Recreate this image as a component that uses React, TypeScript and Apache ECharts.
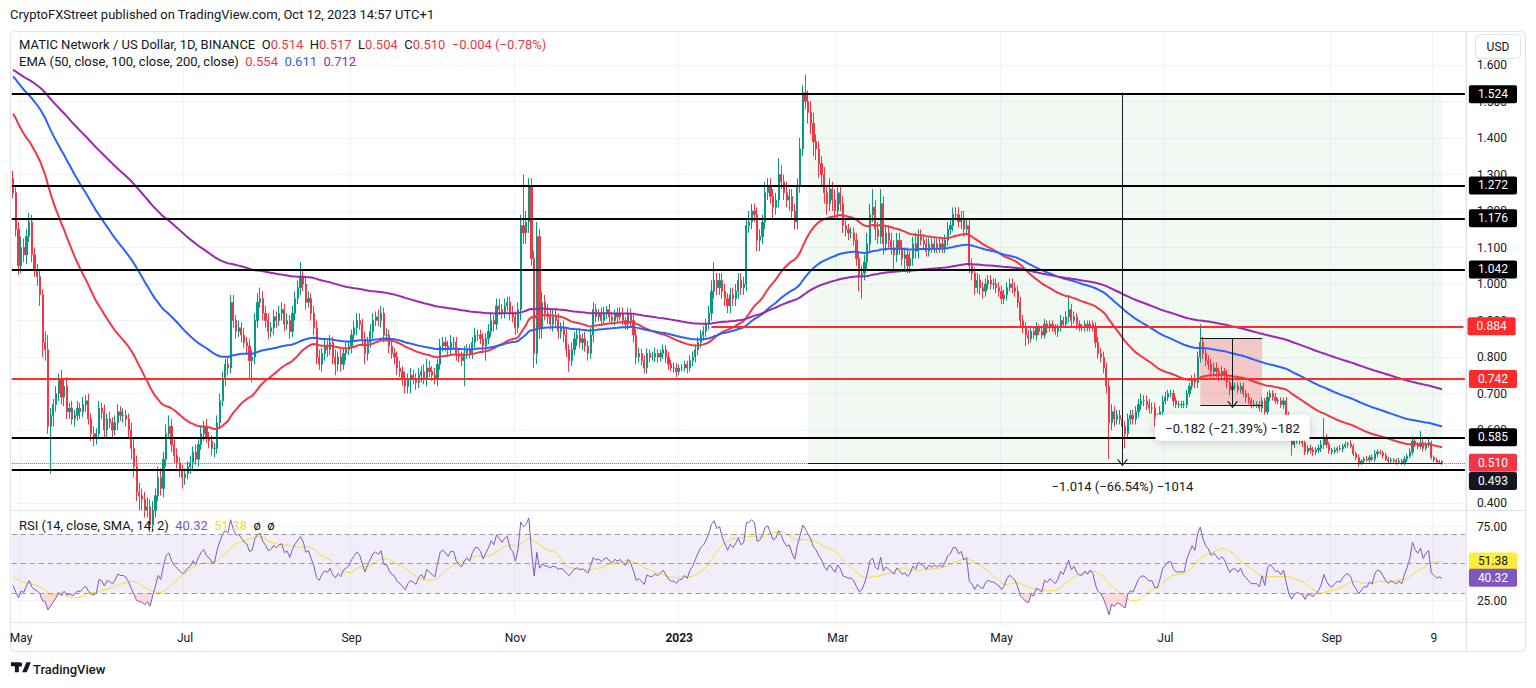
import React, { useEffect, useRef } from "react";
import * as echarts from "echarts";

// ---------------- DATA (prices in thousandths of USD) ----------------
const START_DATE = "2022-04-28";
const FIRST_OPEN = 1290; // close of the day before the first candle
const PAD_DAYS = 8; // empty days to the right of the last candle

const CLOSE_2022_04 = [1250, 1150, 1050];
const CLOSE_2022_05 = [1100, 1080, 1130, 1170, 1080, 1040, 1020, 970, 840, 820, 610, 640, 670, 700, 740, 690, 720, 650, 660, 630, 640, 660, 650, 670, 680, 630, 590, 580, 590, 660, 650];
const CLOSE_2022_06 = [600, 630, 620, 600, 620, 650, 640, 640, 630, 600, 550, 500, 430, 420, 410, 380, 390, 340, 380, 420, 470, 440, 520, 590, 610, 560, 530, 510, 490, 470];
const CLOSE_2022_07 = [480, 500, 510, 540, 520, 560, 590, 610, 580, 570, 550, 550, 620, 680, 740, 780, 770, 950, 900, 870, 880, 860, 840, 830, 790, 800, 900, 950, 960, 920, 900];
const CLOSE_2022_08 = [870, 880, 910, 900, 920, 930, 890, 900, 870, 920, 960, 990, 1020, 1000, 950, 960, 920, 880, 800, 780, 810, 830, 820, 840, 800, 780, 800, 780, 810, 820, 830];
const CLOSE_2022_09 = [860, 880, 900, 890, 850, 810, 840, 870, 900, 910, 900, 920, 860, 860, 830, 810, 800, 770, 760, 740, 720, 740, 750, 740, 730, 750, 760, 740, 770, 760];
const CLOSE_2022_10 = [750, 740, 780, 830, 840, 830, 820, 840, 840, 810, 800, 790, 810, 820, 810, 840, 860, 860, 850, 830, 850, 870, 900, 890, 940, 930, 920, 940, 950, 920, 910];
const CLOSE_2022_11 = [880, 930, 1160, 1140, 1170, 1270, 1070, 810, 1130, 880, 950, 920, 910, 890, 910, 900, 870, 880, 860, 820, 790, 820, 850, 860, 840, 850, 830, 810, 860, 930];
const CLOSE_2022_12 = [910, 920, 900, 920, 930, 910, 900, 920, 910, 920, 900, 890, 920, 900, 860, 800, 810, 790, 770, 810, 800, 800, 810, 800, 810, 820, 800, 780, 770, 770, 760];
const CLOSE_2023_01 = [770, 770, 780, 770, 790, 800, 820, 840, 860, 870, 890, 920, 980, 1010, 990, 1010, 980, 960, 940, 970, 960, 980, 1010, 990, 1000, 1160, 1170, 1200, 1190, 1120, 1130];
const CLOSE_2023_02 = [1170, 1250, 1270, 1240, 1210, 1230, 1300, 1280, 1250, 1230, 1240, 1200, 1170, 1270, 1370, 1524, 1500, 1470, 1440, 1390, 1370, 1330, 1300, 1250, 1220, 1260, 1230, 1200];
const CLOSE_2023_03 = [1250, 1220, 1160, 1150, 1140, 1140, 1120, 1070, 1020, 1030, 1060, 1110, 1190, 1210, 1150, 1130, 1220, 1110, 1140, 1120, 1100, 1080, 1120, 1100, 1070, 1080, 1050, 1070, 1110, 1090, 1130];
const CLOSE_2023_04 = [1120, 1110, 1090, 1110, 1100, 1110, 1100, 1110, 1100, 1120, 1150, 1160, 1190, 1190, 1170, 1180, 1150, 1160, 1050, 1030, 990, 1010, 990, 980, 1000, 1010, 1000, 1000, 990, 980];
const CLOSE_2023_05 = [960, 970, 990, 1000, 990, 980, 950, 900, 880, 860, 850, 870, 860, 880, 870, 860, 890, 880, 890, 880, 870, 880, 900, 890, 910, 930, 900, 910, 890, 880, 880];
const CLOSE_2023_06 = [890, 880, 890, 880, 840, 810, 800, 770, 720, 620, 650, 630, 640, 630, 610, 590, 630, 640, 630, 650, 670, 680, 680, 670, 660, 660, 630, 630, 650, 680];
const CLOSE_2023_07 = [690, 700, 700, 680, 670, 670, 670, 670, 700, 720, 740, 730, 800, 840, 810, 790, 780, 760, 770, 760, 750, 760, 750, 730, 710, 720, 720, 710, 720, 700, 690];
const CLOSE_2023_08 = [680, 670, 670, 670, 660, 680, 650, 690, 700, 690, 680, 680, 670, 680, 640, 590, 560, 570, 575, 570, 565, 540, 550, 545, 540, 545, 550, 560, 580, 560, 545];
const CLOSE_2023_09 = [540, 545, 550, 548, 555, 560, 562, 555, 535, 525, 510, 515, 520, 518, 525, 520, 535, 540, 538, 530, 520, 515, 518, 515, 512, 515, 510, 520, 528, 540];
const CLOSE_2023_10 = [570, 560, 555, 565, 550, 560, 565, 525, 518, 512, 514, 510];

// upper wick above max(open, close) and lower wick below min(open, close)
const UPWICK_2022_04 = [20, 15, 20];
const DNWICK_2022_04 = [15, 20, 25];
const UPWICK_2022_05 = [30, 25, 20, 25, 20, 20, 15, 20, 15, 30, 40, 20, 15, 20, 15, 25, 20, 25, 15, 20, 15, 20, 15, 20, 15, 20, 15, 20, 15, 20, 15];
const DNWICK_2022_05 = [20, 20, 25, 15, 20, 20, 25, 30, 40, 30, 20, 130, 30, 20, 20, 20, 25, 20, 20, 15, 20, 15, 20, 15, 20, 15, 20, 25, 20, 15, 20];
const UPWICK_2022_06 = [20, 15, 20, 15, 20, 20, 15, 20, 15, 15, 20, 25, 30, 25, 20, 20, 25, 20, 25, 20, 30, 25, 20, 25, 30, 20, 15, 20, 15, 15];
const DNWICK_2022_06 = [20, 20, 15, 20, 15, 20, 15, 20, 20, 25, 30, 30, 25, 40, 30, 20, 20, 20, 15, 20, 15, 20, 25, 20, 15, 20, 20, 15, 20, 30];
const UPWICK_2022_07 = [15, 15, 20, 15, 20, 15, 20, 15, 20, 15, 15, 15, 20, 20, 20, 15, 20, 20, 20, 15, 20, 15, 20, 15, 20, 20, 20, 25, 30, 20, 20];
const DNWICK_2022_07 = [20, 15, 20, 20, 15, 20, 15, 20, 15, 20, 20, 25, 15, 15, 15, 20, 20, 15, 20, 20, 15, 20, 15, 20, 50, 60, 20, 20, 15, 20, 20];
const UPWICK_2022_08 = [20, 15, 20, 15, 20, 20, 15, 20, 15, 20, 20, 20, 40, 20, 20, 20, 15, 20, 20, 20, 15, 20, 15, 20, 15, 20, 15, 20, 15, 20, 15];
const DNWICK_2022_08 = [20, 15, 20, 20, 15, 20, 20, 15, 20, 15, 20, 15, 20, 20, 20, 15, 20, 20, 20, 15, 20, 20, 20, 15, 20, 30, 20, 20, 15, 20, 15];
const UPWICK_2022_09 = [15, 20, 20, 20, 15, 20, 15, 20, 20, 15, 20, 20, 15, 20, 15, 20, 15, 15, 20, 15, 20, 15, 20, 15, 15, 20, 15, 20, 25, 20];
const DNWICK_2022_09 = [20, 15, 20, 15, 20, 30, 20, 15, 20, 15, 15, 20, 20, 15, 20, 15, 20, 20, 15, 20, 20, 20, 40, 15, 20, 15, 20, 15, 20, 15];
const UPWICK_2022_10 = [15, 20, 15, 20, 15, 15, 15, 20, 15, 15, 15, 15, 20, 15, 15, 15, 20, 15, 15, 15, 15, 20, 20, 15, 20, 20, 15, 20, 15, 15, 20];
const DNWICK_2022_10 = [15, 15, 20, 15, 15, 15, 20, 15, 15, 20, 15, 15, 70, 15, 15, 15, 15, 15, 15, 20, 40, 15, 15, 20, 15, 15, 15, 15, 15, 20, 15];
const UPWICK_2022_11 = [15, 20, 30, 140, 30, 20, 20, 20, 40, 20, 30, 20, 25, 20, 20, 20, 20, 15, 20, 20, 15, 20, 20, 15, 20, 15, 20, 15, 20, 20];
const DNWICK_2022_11 = [20, 15, 30, 30, 30, 30, 20, 40, 30, 30, 30, 20, 20, 15, 20, 15, 20, 20, 20, 20, 30, 15, 15, 20, 15, 20, 15, 20, 15, 20];
const UPWICK_2022_12 = [15, 12, 15, 18, 10, 15, 14, 10, 15, 16, 15, 10, 15, 13, 15, 17, 15, 12, 15, 14, 10, 15, 16, 12, 10, 15, 13, 15, 12, 15, 14];
const DNWICK_2022_12 = [15, 13, 15, 10, 16, 15, 10, 14, 15, 10, 12, 15, 16, 15, 20, 20, 15, 13, 15, 16, 15, 10, 14, 15, 12, 15, 16, 15, 10, 13, 15];
const UPWICK_2023_01 = [10, 10, 10, 10, 15, 15, 15, 15, 15, 15, 15, 20, 30, 50, 20, 20, 20, 20, 15, 20, 20, 20, 20, 20, 20, 20, 30, 20, 20, 20, 20];
const DNWICK_2023_01 = [10, 10, 10, 15, 10, 15, 15, 15, 15, 15, 15, 15, 20, 20, 20, 20, 20, 20, 20, 20, 20, 20, 20, 20, 20, 20, 20, 20, 20, 30, 30];
const UPWICK_2023_02 = [20, 30, 20, 20, 20, 20, 45, 25, 20, 30, 20, 20, 20, 20, 30, 20, 50, 30, 30, 30, 20, 20, 20, 20, 20, 30, 20, 30];
const DNWICK_2023_02 = [20, 20, 20, 20, 30, 20, 20, 20, 20, 20, 30, 20, 20, 20, 20, 20, 20, 30, 30, 40, 30, 40, 30, 30, 30, 20, 30, 20];
const UPWICK_2023_03 = [20, 20, 20, 20, 15, 15, 15, 20, 20, 20, 20, 30, 30, 50, 20, 20, 40, 20, 20, 20, 20, 20, 20, 20, 20, 20, 20, 20, 20, 30, 20];
const DNWICK_2023_03 = [20, 20, 20, 20, 20, 15, 15, 20, 40, 60, 20, 20, 20, 20, 30, 20, 20, 30, 20, 20, 20, 40, 20, 20, 20, 30, 20, 20, 20, 20, 20];
const UPWICK_2023_04 = [20, 15, 15, 15, 15, 15, 15, 15, 15, 15, 20, 20, 20, 20, 20, 20, 20, 20, 20, 20, 15, 20, 15, 15, 15, 15, 15, 15, 15, 15];
const DNWICK_2023_04 = [15, 15, 15, 15, 15, 15, 15, 15, 15, 15, 15, 15, 15, 15, 15, 20, 20, 15, 20, 20, 20, 15, 20, 20, 15, 15, 15, 15, 15, 15];
const UPWICK_2023_05 = [15, 15, 15, 15, 15, 15, 15, 15, 15, 15, 15, 15, 10, 15, 10, 15, 15, 10, 10, 10, 10, 10, 15, 10, 15, 40, 15, 15, 10, 10, 10];
const DNWICK_2023_05 = [15, 15, 15, 10, 15, 15, 15, 15, 15, 30, 15, 10, 10, 15, 10, 10, 10, 15, 10, 10, 10, 15, 10, 10, 10, 15, 15, 10, 15, 10, 10];
const UPWICK_2023_06 = [10, 10, 10, 10, 15, 15, 15, 15, 15, 20, 20, 15, 15, 15, 15, 15, 15, 15, 15, 15, 15, 20, 15, 15, 15, 15, 15, 15, 15, 15];
const DNWICK_2023_06 = [10, 10, 10, 10, 15, 15, 15, 15, 20, 100, 20, 20, 15, 15, 20, 40, 15, 15, 15, 15, 15, 15, 15, 15, 15, 15, 20, 15, 15, 15];
const UPWICK_2023_07 = [15, 10, 10, 10, 10, 10, 10, 10, 10, 10, 10, 15, 15, 50, 15, 15, 15, 15, 15, 15, 10, 15, 10, 15, 15, 10, 10, 10, 10, 10, 10];
const DNWICK_2023_07 = [10, 10, 10, 15, 10, 10, 10, 10, 10, 10, 10, 15, 15, 15, 15, 15, 15, 15, 15, 15, 15, 15, 15, 15, 15, 10, 10, 10, 10, 10, 15];
const UPWICK_2023_08 = [10, 8, 12, 9, 10, 11, 8, 15, 10, 9, 12, 8, 10, 9, 11, 10, 12, 9, 8, 10, 9, 11, 8, 10, 9, 8, 10, 12, 53, 9, 8];
const DNWICK_2023_08 = [9, 11, 8, 10, 9, 12, 8, 10, 11, 9, 8, 10, 9, 12, 10, 11, 30, 9, 8, 10, 12, 9, 8, 10, 11, 9, 8, 10, 12, 9, 10];
const UPWICK_2023_09 = [6, 8, 5, 9, 7, 8, 6, 10, 7, 6, 8, 5, 7, 9, 6, 8, 10, 7, 6, 5, 8, 7, 6, 5, 7, 9, 6, 8, 7, 10];
const DNWICK_2023_09 = [7, 5, 8, 6, 9, 6, 8, 5, 7, 8, 10, 6, 7, 5, 8, 6, 7, 9, 6, 8, 5, 7, 6, 8, 7, 5, 6, 7, 8, 6];
const UPWICK_2023_10 = [12, 10, 8, 32, 10, 8, 12, 6, 5, 5, 4, 3];
const DNWICK_2023_10 = [8, 6, 8, 7, 9, 6, 8, 6, 6, 5, 5, 6];

// indicator state before the first visible candle
const EMA_PERIODS = [50, 100, 200];
const EMA_SEEDS = [1.475, 1.575, 1.59];
const RSI_PERIOD = 14;
const RSI_SEED_GAIN = 0.02;
const RSI_SEED_LOSS = 0.034;
const RSI_SMA_PERIOD = 14;
const RSI_SMA_SEED = 41;

// drawings
const BLACK_LEVELS = [1.524, 1.272, 1.176, 1.042, 0.585];
const SUPPORT_LEVEL = 0.493;
const RED_LEVELS = [0.742];
const RED_RAY_START = "2023-01-13";
const RED_RAY_LEVEL = 0.884;
const BIG_RANGE = ["2023-02-18", "2023-10-12", "2023-06-15"]; // from, to, arrow
const BIG_RANGE_PRICES = [1.524, 0.51];
const BIG_RANGE_TEXT = "\u22121.014 (\u221266.54%) \u22121014";
const SMALL_RANGE = ["2023-07-14", "2023-08-06", "2023-07-26"];
const SMALL_RANGE_PRICES = [0.851, 0.669];
const SMALL_RANGE_TEXT = "\u22120.182 (\u221221.39%) \u2212182";

const PRICE_TICKS = [0.4, 0.5, 0.6, 0.7, 0.8, 0.9, 1.0, 1.1, 1.2, 1.3, 1.4, 1.5, 1.6];
const RSI_TICKS = [25, 75];
const RSI_BANDS = [30, 50, 70];
const EMA_LAST_TEXT = ["0.554", "0.611", "0.712"];
const RSI_LAST = 40.32;
const RSI_SMA_LAST = 51.38;
const X_LABEL_DATES = ["2022-05-01", "2022-07-01", "2022-09-01", "2022-11-01", "2023-01-01", "2023-03-01", "2023-05-01", "2023-07-01", "2023-09-01", "2023-10-09"];
const MONTHS = ["Jan", "Feb", "Mar", "Apr", "May", "Jun", "Jul", "Aug", "Sep", "Oct", "Nov", "Dec"];

// ---------------- LAYOUT ----------------
const FONT = "Roboto, 'Noto Sans', Arial, sans-serif";
const TXT = "#131722";
const UP = "#089981";
const DOWN = "#F23645";
const RED_LINE = "#FF2B2B";
const EMA_COLORS = ["#F23645", "#2962FF", "#9C27B0"];
const RSI_COLOR = "#7E57C2";
const RSI_SMA_COLOR = "#F5DC2A";
const GRID_LINE = "#F0F3FA";
const HIDDEN_LINE = { color: "rgba(0,0,0,0)", width: 0 };

const PLOT_LEFT = 11.75;
const DAY_PX = 2.686;
const PRICE_TOP = 31;
const PRICE_BOTTOM = 509;
const PRICE_Y_AT_1 = 284;
const PRICE_PX = 365; // px per 1.0 USD
const RSI_TOP = 511;
const RSI_BOTTOM = 622;
const RSI_Y_AT_50 = 563.5;
const RSI_PX = 1.48;

const TV_LOGO_PATH = "M14 22H7V11H0V4h14v18zM28 22h-8l7.5-18h8L28 22zM20 8a4 4 0 1 1-8 0 4 4 0 0 1 8 0z";
const CHEVRON = "path://M0,7 L6,0 L12,7 L10.4,7 L6,1.9 L1.6,7 Z";

// ---------------- DERIVED ----------------
const CLOSES = [
  ...CLOSE_2022_04, ...CLOSE_2022_05, ...CLOSE_2022_06, ...CLOSE_2022_07, ...CLOSE_2022_08, ...CLOSE_2022_09,
  ...CLOSE_2022_10, ...CLOSE_2022_11, ...CLOSE_2022_12, ...CLOSE_2023_01, ...CLOSE_2023_02, ...CLOSE_2023_03,
  ...CLOSE_2023_04, ...CLOSE_2023_05, ...CLOSE_2023_06, ...CLOSE_2023_07, ...CLOSE_2023_08, ...CLOSE_2023_09, ...CLOSE_2023_10,
];
const UPWICKS = [
  ...UPWICK_2022_04, ...UPWICK_2022_05, ...UPWICK_2022_06, ...UPWICK_2022_07, ...UPWICK_2022_08, ...UPWICK_2022_09,
  ...UPWICK_2022_10, ...UPWICK_2022_11, ...UPWICK_2022_12, ...UPWICK_2023_01, ...UPWICK_2023_02, ...UPWICK_2023_03,
  ...UPWICK_2023_04, ...UPWICK_2023_05, ...UPWICK_2023_06, ...UPWICK_2023_07, ...UPWICK_2023_08, ...UPWICK_2023_09, ...UPWICK_2023_10,
];
const DNWICKS = [
  ...DNWICK_2022_04, ...DNWICK_2022_05, ...DNWICK_2022_06, ...DNWICK_2022_07, ...DNWICK_2022_08, ...DNWICK_2022_09,
  ...DNWICK_2022_10, ...DNWICK_2022_11, ...DNWICK_2022_12, ...DNWICK_2023_01, ...DNWICK_2023_02, ...DNWICK_2023_03,
  ...DNWICK_2023_04, ...DNWICK_2023_05, ...DNWICK_2023_06, ...DNWICK_2023_07, ...DNWICK_2023_08, ...DNWICK_2023_09, ...DNWICK_2023_10,
];

function addDays(iso: string, n: number) {
  const d = new Date(iso + "T00:00:00Z");
  d.setUTCDate(d.getUTCDate() + n);
  return d.toISOString().slice(0, 10);
}

function buildData() {
  const n = CLOSES.length;
  const dates = Array.from({ length: n + PAD_DAYS }, (_, i) => addDays(START_DATE, i));
  let prev = FIRST_OPEN;
  const candles = CLOSES.map((c, i) => {
    const o = prev;
    prev = c;
    const hi = Math.max(o, c) + (UPWICKS[i] ?? 0);
    const lo = Math.min(o, c) - (DNWICKS[i] ?? 0);
    return [o / 1000, c / 1000, lo / 1000, hi / 1000];
  });
  const closes = CLOSES.map((c) => c / 1000);
  const emas = EMA_PERIODS.map((p, k) => {
    const a = 2 / (p + 1);
    let e = EMA_SEEDS[k];
    return closes.map((c) => +(e = a * c + (1 - a) * e).toFixed(4));
  });
  let ag = RSI_SEED_GAIN;
  let al = RSI_SEED_LOSS;
  let pc = FIRST_OPEN / 1000;
  const rsi = closes.map((c) => {
    const ch = c - pc;
    pc = c;
    ag = (ag * (RSI_PERIOD - 1) + Math.max(ch, 0)) / RSI_PERIOD;
    al = (al * (RSI_PERIOD - 1) + Math.max(-ch, 0)) / RSI_PERIOD;
    return +(100 - 100 / (1 + ag / al)).toFixed(2);
  });
  const hist = Array.from({ length: RSI_SMA_PERIOD - 1 }, () => RSI_SMA_SEED);
  const rsiSma = rsi.map((r) => {
    hist.push(r);
    const win = hist.slice(-RSI_SMA_PERIOD);
    return +(win.reduce((s, v) => s + v, 0) / win.length).toFixed(2);
  });
  // oversold fill: base at min(rsi, 30), filled up to the 30 line
  const osBase = rsi.map((r) => Math.min(r, RSI_BANDS[0]));
  const osFill = osBase.map((b) => +(RSI_BANDS[0] - b).toFixed(2));
  return { dates, candles, emas, rsi, rsiSma, osBase, osFill };
}

function tag(bg: string, fg: string, text: string) {
  return {
    show: true,
    position: "end",
    distance: 4,
    formatter: text,
    backgroundColor: bg,
    color: fg,
    opacity: 1,
    padding: [3, 9, 2, 9],
    fontSize: 12,
    fontFamily: FONT,
    lineHeight: 13,
    borderRadius: 2,
  };
}

function buildOption() {
  const { dates, candles, emas, rsi, rsiSma, osBase, osFill } = buildData();
  const last = candles[candles.length - 1];
  const lastDate = dates[dates.length - 1];
  const plotW = dates.length * DAY_PX;
  const pMin = 1 - (PRICE_BOTTOM - PRICE_Y_AT_1) / PRICE_PX;
  const pMax = 1 + (PRICE_Y_AT_1 - PRICE_TOP) / PRICE_PX;
  const rMin = 50 - (RSI_BOTTOM - RSI_Y_AT_50) / RSI_PX;
  const rMax = 50 + (RSI_Y_AT_50 - RSI_TOP) / RSI_PX;
  const labelSet = new Set(X_LABEL_DATES);
  const showAt = (_i: number, v: string) => labelSet.has(v);
  const xFmt = (v: string) => {
    const [y, m, d] = v.split("-").map(Number);
    if (m === 1 && d === 1) return "{b|" + y + "}";
    if (d !== 1) return String(d);
    return MONTHS[m - 1];
  };

  const chg = last[1] - last[0];
  const chgTxt = (chg < 0 ? "\u2212" : "+") + Math.abs(chg).toFixed(3) + " (" + (chg < 0 ? "\u2212" : "+") + Math.abs((chg / last[0]) * 100).toFixed(2) + "%)";

  const dark = { color: "#131722", width: 1, type: "solid" };

  const priceLines: any[] = [
    ...BLACK_LEVELS.map((v) => ({ yAxis: v, lineStyle: { color: "#000", width: 2, type: "solid" }, label: tag("#000", "#fff", v.toFixed(3)) })),
    { yAxis: SUPPORT_LEVEL, lineStyle: { color: "#000", width: 2, type: "solid" }, label: { show: false } },
    ...RED_LEVELS.map((v) => ({ yAxis: v, lineStyle: { color: RED_LINE, width: 2, type: "solid" }, label: tag(RED_LINE, "#fff", v.toFixed(3)) })),
    [
      { coord: [RED_RAY_START, RED_RAY_LEVEL], lineStyle: { color: RED_LINE, width: 2, type: "solid" }, label: tag(RED_LINE, "#fff", RED_RAY_LEVEL.toFixed(3)) },
      { coord: [lastDate, RED_RAY_LEVEL] },
    ],
    { yAxis: last[1], lineStyle: { color: DOWN, width: 1, type: "dotted" }, label: tag(DOWN, "#fff", last[1].toFixed(3)) },
    // support label pushed below the last-price label, like the price scale does
    { yAxis: SUPPORT_LEVEL - 12 / PRICE_PX, lineStyle: HIDDEN_LINE, label: tag("#131722", "#fff", SUPPORT_LEVEL.toFixed(3)) },
    // big range
    [
      { coord: [BIG_RANGE[0], BIG_RANGE_PRICES[1]], lineStyle: dark, label: { show: false } },
      { coord: [BIG_RANGE[1], BIG_RANGE_PRICES[1]] },
    ],
    [
      { coord: [BIG_RANGE[2], BIG_RANGE_PRICES[0]], lineStyle: dark, symbol: "none" },
      {
        coord: [BIG_RANGE[2], BIG_RANGE_PRICES[1]],
        symbol: CHEVRON,
        symbolSize: [11, 7],
        label: { show: true, position: "end", distance: 17, formatter: BIG_RANGE_TEXT, color: TXT, fontSize: 13, fontFamily: FONT },
      },
    ],
    // small range
    [
      { coord: [SMALL_RANGE[0], SMALL_RANGE_PRICES[0]], lineStyle: dark, label: { show: false } },
      { coord: [SMALL_RANGE[1], SMALL_RANGE_PRICES[0]] },
    ],
    [
      { coord: [SMALL_RANGE[0], SMALL_RANGE_PRICES[1]], lineStyle: dark, label: { show: false } },
      { coord: [SMALL_RANGE[1], SMALL_RANGE_PRICES[1]] },
    ],
    [
      { coord: [SMALL_RANGE[2], SMALL_RANGE_PRICES[0]], lineStyle: dark, symbol: "none" },
      {
        coord: [SMALL_RANGE[2], SMALL_RANGE_PRICES[1]],
        symbol: CHEVRON,
        symbolSize: [11, 7],
        label: {
          show: true, position: "end", distance: 10, formatter: SMALL_RANGE_TEXT, color: TXT, fontSize: 13, fontFamily: FONT,
          backgroundColor: "#fff", padding: [7, 10, 6, 10], borderRadius: 4,
          shadowBlur: 8, shadowColor: "rgba(0,0,0,0.18)", shadowOffsetY: 2,
        },
      },
    ],
  ];

  const xBase: any = {
    type: "category",
    data: dates,
    boundaryGap: true,
    axisTick: { show: false },
    splitLine: { show: true, interval: showAt, lineStyle: { color: GRID_LINE, width: 1 } },
  };

  const graphic: any[] = [
    { type: "rect", silent: true, z: -10, shape: { x: 10.5, y: 31.5, width: 1515, height: 620, r: 4 }, style: { fill: "none", stroke: "#E0E3EB", lineWidth: 1 } },
    { type: "line", silent: true, z: -10, shape: { x1: 1466.5, y1: 31.5, x2: 1466.5, y2: 651.5 }, style: { stroke: "#E0E3EB", lineWidth: 1 } },
    { type: "line", silent: true, z: -10, shape: { x1: 10.5, y1: 510.5, x2: 1525.5, y2: 510.5 }, style: { stroke: "#E0E3EB", lineWidth: 1 } },
    { type: "line", silent: true, z: -10, shape: { x1: 10.5, y1: 622.5, x2: 1525.5, y2: 622.5 }, style: { stroke: "#E0E3EB", lineWidth: 1 } },
    {
      type: "text", left: 10, top: 8, silent: true,
      style: { text: "CryptoFXStreet published on TradingView.com, Oct 12, 2023 14:57 UTC+1", fill: TXT, font: `13px ${FONT}` },
    },
    {
      type: "text", left: 19, top: 38, silent: true, z: 20,
      style: {
        text: `{t|MATIC Network / US Dollar, 1D, BINANCE}  {t|O}{r|${last[0].toFixed(3)}}  {t|H}{r|${last[3].toFixed(3)}}  {t|L}{r|${last[2].toFixed(3)}}  {t|C}{r|${last[1].toFixed(3)}}  {r|${chgTxt}}`,
        font: `13px ${FONT}`,
        rich: { t: { fill: TXT, font: `13px ${FONT}` }, r: { fill: DOWN, font: `13px ${FONT}` } },
      },
    },
    {
      type: "text", left: 19, top: 55, silent: true, z: 20,
      style: {
        text: `{t|EMA (50, close, 100, close, 200, close)}  {a|${EMA_LAST_TEXT[0]}}  {b|${EMA_LAST_TEXT[1]}}  {c|${EMA_LAST_TEXT[2]}}`,
        font: `13px ${FONT}`,
        rich: {
          t: { fill: TXT, font: `13px ${FONT}` },
          a: { fill: EMA_COLORS[0], font: `13px ${FONT}` },
          b: { fill: EMA_COLORS[1], font: `13px ${FONT}` },
          c: { fill: EMA_COLORS[2], font: `13px ${FONT}` },
        },
      },
    },
    {
      type: "text", left: 19, top: 519, silent: true, z: 20,
      style: {
        text: `{t|RSI (14, close, SMA, 14, 2)}  {p|${RSI_LAST.toFixed(2)}}  {y|${RSI_SMA_LAST.toFixed(2)}}  {t|\u00f8}  {t|\u00f8}`,
        font: `13px ${FONT}`,
        rich: {
          t: { fill: TXT, font: `13px ${FONT}` },
          p: { fill: RSI_COLOR, font: `13px ${FONT}` },
          y: { fill: RSI_SMA_COLOR, font: `13px ${FONT}` },
        },
      },
    },
    { type: "rect", silent: true, shape: { x: 1475.5, y: 34.5, width: 45, height: 24, r: 4 }, style: { fill: "#fff", stroke: "#E0E3EB", lineWidth: 1 } },
    { type: "text", silent: true, x: 1498, y: 46.5, style: { text: "USD", fill: TXT, font: `12px ${FONT}`, align: "center", verticalAlign: "middle" } },
    { type: "tvlogo", silent: true, x: 11, y: 660, scaleX: 0.56, scaleY: 0.56, style: { fill: "#131722" } },
    { type: "text", silent: true, x: 33, y: 669, style: { text: "TradingView", fill: TXT, font: `500 13px ${FONT}`, verticalAlign: "middle" } },
  ];

  return {
    animation: false,
    backgroundColor: "#fff",
    textStyle: { fontFamily: FONT },
    grid: [
      { left: PLOT_LEFT, width: plotW, top: PRICE_TOP, height: PRICE_BOTTOM - PRICE_TOP, containLabel: false, outerBoundsMode: "none" },
      { left: PLOT_LEFT, width: plotW, top: RSI_TOP, height: RSI_BOTTOM - RSI_TOP, containLabel: false, outerBoundsMode: "none" },
    ],
    xAxis: [
      { ...xBase, gridIndex: 0, axisLine: { show: false }, axisLabel: { show: false } },
      {
        ...xBase, gridIndex: 1, axisLine: { show: false },
        axisLabel: {
          show: true, interval: showAt, formatter: xFmt, color: TXT, fontSize: 12, fontFamily: FONT, margin: 10,
          rich: { b: { fontWeight: "bold", color: TXT, fontSize: 12, fontFamily: FONT } },
        },
      },
    ],
    yAxis: [
      {
        type: "value", gridIndex: 0, position: "right", min: pMin, max: pMax, scale: true,
        axisLine: { show: false },
        axisTick: { show: false, customValues: PRICE_TICKS },
        axisLabel: { customValues: PRICE_TICKS, formatter: (v: number) => v.toFixed(3), color: TXT, fontSize: 12, fontFamily: FONT, margin: 12, align: "left" },
        splitLine: { show: true, lineStyle: { color: GRID_LINE } },
      },
      {
        type: "value", gridIndex: 1, position: "right", min: rMin, max: rMax,
        axisLine: { show: false },
        axisTick: { show: false, customValues: RSI_TICKS },
        axisLabel: { customValues: RSI_TICKS, formatter: (v: number) => v.toFixed(2), color: TXT, fontSize: 12, fontFamily: FONT, margin: 12, align: "left" },
        splitLine: { show: true, lineStyle: { color: GRID_LINE } },
      },
    ],
    series: [
      {
        type: "line", xAxisIndex: 0, yAxisIndex: 0, data: [], z: 1, silent: true,
        markArea: {
          silent: true,
          data: [
            [{ xAxis: BIG_RANGE[0], yAxis: BIG_RANGE_PRICES[0], itemStyle: { color: "rgba(76,175,80,0.07)" } }, { xAxis: BIG_RANGE[1], yAxis: BIG_RANGE_PRICES[1] }],
            [{ xAxis: SMALL_RANGE[0], yAxis: SMALL_RANGE_PRICES[0], itemStyle: { color: "rgba(242,54,69,0.25)" } }, { xAxis: SMALL_RANGE[1], yAxis: SMALL_RANGE_PRICES[1] }],
          ],
        },
      },
      {
        type: "candlestick", name: "MATICUSD", xAxisIndex: 0, yAxisIndex: 0, data: candles, z: 2, clip: true,
        barWidth: "62%",
        itemStyle: { color: UP, color0: DOWN, borderColor: UP, borderColor0: DOWN, borderWidth: 1 },
      },
      ...emas.map((e, k) => ({
        type: "line", name: "EMA" + EMA_PERIODS[k], xAxisIndex: 0, yAxisIndex: 0, data: e, z: 3,
        showSymbol: false, symbol: "none", silent: true,
        lineStyle: { color: EMA_COLORS[k], width: 2 },
      })),
      {
        type: "line", xAxisIndex: 0, yAxisIndex: 0, data: [], z: 6, silent: true,
        markLine: { silent: true, symbol: ["none", "none"], animation: false, data: priceLines },
      },
      {
        type: "line", name: "os-base", xAxisIndex: 1, yAxisIndex: 1, data: osBase, stack: "os", z: 1,
        showSymbol: false, symbol: "none", silent: true, lineStyle: HIDDEN_LINE,
      },
      {
        type: "line", name: "os-fill", xAxisIndex: 1, yAxisIndex: 1, data: osFill, stack: "os", z: 1,
        showSymbol: false, symbol: "none", silent: true, lineStyle: HIDDEN_LINE,
        areaStyle: { color: "rgba(242,54,69,0.18)", opacity: 1 },
      },
      {
        type: "line", name: "RSI", xAxisIndex: 1, yAxisIndex: 1, data: rsi, z: 3, showSymbol: false, symbol: "none", silent: true,
        lineStyle: { color: RSI_COLOR, width: 1 },
        markArea: { silent: true, data: [[{ yAxis: RSI_BANDS[0], itemStyle: { color: "rgba(126,87,194,0.1)" } }, { yAxis: RSI_BANDS[2] }]] },
        markLine: {
          silent: true, symbol: ["none", "none"], animation: false,
          data: [
            ...RSI_BANDS.map((v) => ({ yAxis: v, lineStyle: { color: "#9598A1", width: 1, type: [5, 4] }, label: { show: false } })),
            { yAxis: RSI_SMA_LAST, lineStyle: HIDDEN_LINE, label: tag("#FFEB3B", TXT, RSI_SMA_LAST.toFixed(2)) },
            { yAxis: RSI_LAST, lineStyle: HIDDEN_LINE, label: tag(RSI_COLOR, "#fff", RSI_LAST.toFixed(2)) },
          ],
        },
      },
      {
        type: "line", name: "RSI SMA", xAxisIndex: 1, yAxisIndex: 1, data: rsiSma, z: 2, showSymbol: false, symbol: "none", silent: true,
        lineStyle: { color: RSI_SMA_COLOR, width: 1 },
      },
    ],
    graphic,
  };
}

export default function App() {
  const ref = useRef<HTMLDivElement>(null);
  useEffect(() => {
    echarts.graphic.registerShape("tvlogo", echarts.graphic.extendPath(TV_LOGO_PATH, {}));
    const chart = echarts.init(ref.current!, undefined, { renderer: "svg" });
    chart.setOption(buildOption() as any);
    return () => chart.dispose();
  }, []);
  return <div ref={ref} style={{ position: "absolute", left: 0, top: 0, width: 1536, height: 688, background: "#fff" }} />;
}
